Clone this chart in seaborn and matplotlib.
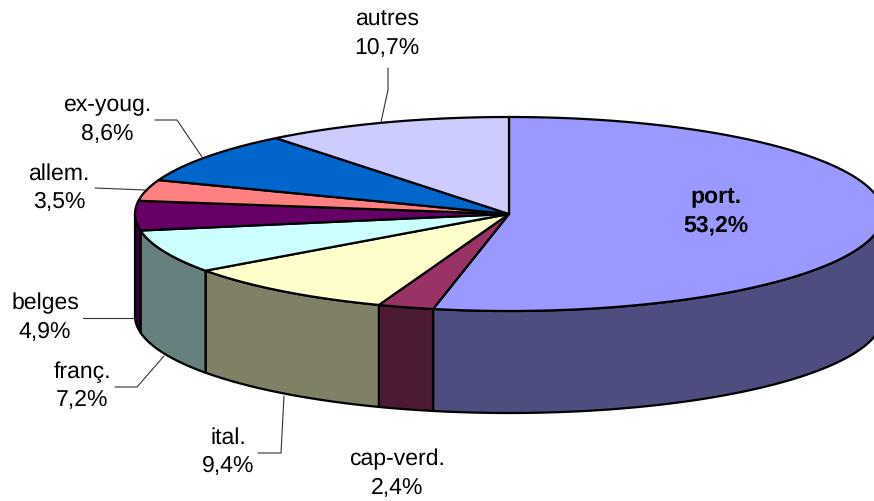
import matplotlib
matplotlib.use('Agg')
import matplotlib.pyplot as plt
import numpy as np
import seaborn as sns

names = ['port.', 'cap-verd.', 'ital.', 'franç.', 'belges', 'allem.', 'ex-youg.', 'autres']
pct_text = ['53,2%', '2,4%', '9,4%', '7,2%', '4,9%', '3,5%', '8,6%', '10,7%']
values = [53.2, 2.4, 9.4, 7.2, 4.9, 3.5, 8.6, 10.7]
colors = ['#9999FF', '#993366', '#FFFFCC', '#CCFFFF', '#660066', '#FF8080', '#0066CC', '#CCCCFF']

# label centres, in picture pixels
label_x = [716, 397, 228, 82, 45, 59, 107, 387]
label_y = [211, 474, 452, 386, 318, 188, 120, 34]

# leader lines (None = no leader)
leaders = [
    None,
    None,
    [(258, 453), (281, 453), (284, 396)],
    [(115, 387), (137, 387), (164, 356)],
    [(83, 318), (135, 318)],
    [(95, 188), (145, 190)],
    [(155, 120), (177, 120), (202, 157)],
    [(388, 68), (388, 90), (381, 122)],
]

# fake 3d pie geometry
cx, cy = 509, 214
rx, ry = 374, 97
depth = 102

sns.set_theme(style='white')
plt.rcParams['font.family'] = ['Liberation Sans', 'DejaVu Sans']
plt.rcParams['text.hinting'] = 'no_hinting'
plt.rcParams['text.hinting_factor'] = 1
palette = sns.color_palette(colors)

fig, ax = plt.subplots(figsize=(8.74, 5.01), dpi=100)
ax.set_position([0, 0, 1, 1])
ax.set_xlim(0, 874)
ax.set_ylim(501, 0)
ax.axis('off')


def rim(a, b, drop=0):
    # angles clockwise from 12 o'clock, in degrees
    t = np.radians(np.linspace(a, b, 200))
    return cx + rx * np.sin(t), cy - ry * np.cos(t) + drop


edges = np.cumsum([0] + values) / sum(values) * 360

# side wall, only the part that faces us (90 to 270 degrees)
for i, c in enumerate(palette):
    a = max(edges[i], 90)
    b = min(edges[i + 1], 270)
    if a >= b:
        continue
    x1, y1 = rim(a, b)
    x2, y2 = rim(a, b, depth)
    dark = tuple(v * 0.5 for v in c)
    ax.fill(np.r_[x1, x2[::-1]], np.r_[y1, y2[::-1]], facecolor=dark,
            edgecolor='black', linewidth=1.6, joinstyle='round')

# top of the pie
for i, c in enumerate(palette):
    x, y = rim(edges[i], edges[i + 1])
    ax.fill(np.r_[cx, x], np.r_[cy, y], facecolor=c,
            edgecolor='black', linewidth=1.6, joinstyle='round')

for pts in leaders:
    if pts is None:
        continue
    ax.plot([p[0] for p in pts], [p[1] for p in pts], color='#333333', linewidth=0.8)

for i, name in enumerate(names):
    ax.text(label_x[i], label_y[i], name + '\n' + pct_text[i], ha='center', va='center',
            fontsize=16.7, linespacing=1.42, color='black',
            fontweight='bold' if i == 0 else 'normal')

plt.savefig('out.png', dpi=100)
